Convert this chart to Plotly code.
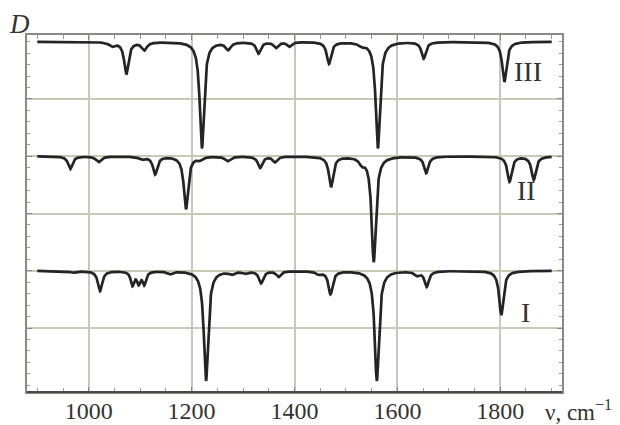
import numpy as np
import plotly.graph_objects as go

# Band parameters (position cm^-1, depth in grid units, half-width cm^-1)
nu_III = [1045, 1073, 1108, 1220, 1271, 1330, 1364, 1390, 1467, 1531, 1562, 1651, 1808]
d_III  = [0.07, 0.56, 0.14, 1.86, 0.13, 0.20, 0.10, 0.08, 0.38, 0.05, 1.86, 0.29, 0.70]
w_III  = [7, 5, 6, 5, 6, 5, 5, 5, 5, 7, 5, 5, 5]

nu_II = [964, 1019, 1103, 1129, 1189, 1216, 1270, 1333, 1362, 1471, 1531, 1554, 1656, 1818, 1865]
d_II  = [0.22, 0.10, 0.05, 0.31, 0.92, 0.05, 0.08, 0.20, 0.10, 0.53, 0.10, 1.84, 0.29, 0.44, 0.41]
w_II  = [5, 6, 7, 5, 5, 6, 6, 5, 5, 5, 6, 5, 5, 5, 5]

nu_I = [970, 1022, 1085, 1097, 1108, 1158, 1228, 1278, 1304, 1335, 1369, 1447, 1470, 1560, 1638, 1657, 1802]
d_I  = [0.03, 0.35, 0.24, 0.20, 0.22, 0.05, 1.92, 0.05, 0.04, 0.21, 0.10, 0.05, 0.40, 1.92, 0.07, 0.27, 0.77]
w_I  = [7, 5, 4, 4, 4, 6, 5, 6, 6, 5, 5, 6, 5, 5, 6, 5, 5]

labels = ["III", "II", "I"]
label_x = [1853, 1851, 1849]
label_y = [5.48, 3.41, 1.27]

x_ticks = [1000, 1200, 1400, 1600, 1800]
y_grid = [1, 2, 3, 4, 5]

nu = np.arange(900, 1900.01, 0.5)

def spectrum(base, pos, dep, wid):
    y = np.full_like(nu, float(base))
    for p, d, w in zip(pos, dep, wid):
        y -= d * w**2 / ((nu - p)**2 + w**2)
    return y

fig = go.Figure()
for base, pos, dep, wid in [(6, nu_III, d_III, w_III), (4, nu_II, d_II, w_II), (2, nu_I, d_I, w_I)]:
    fig.add_trace(go.Scatter(x=nu, y=spectrum(base, pos, dep, wid), mode="lines",
                             line=dict(color="#242424", width=2.7), hoverinfo="skip",
                             showlegend=False))

font_serif = "Liberation Serif, Times New Roman, serif"
for t, lx, ly in zip(labels, label_x, label_y):
    fig.add_annotation(x=lx, y=ly, text=t, showarrow=False, xref="x", yref="y",
                       xanchor="center", yanchor="middle",
                       font=dict(family=font_serif, size=28, color="#333333"))

# page body has an 8px margin; figure is sized so plot area lands at page (27,35)-(562,392)
OFF = 8
FW, FH = 620 - OFF, 425 - OFF
L, R, T, B = 27 - OFF, 58, 35 - OFF, 33
W, H = FW - L - R, FH - T - B
def px(xp, yp):
    # page pixel -> paper coords
    return (xp - 27) / W, 1 - (yp - 35) / H

dx, dy = px(19, 24)
fig.add_annotation(x=dx, y=dy, xref="paper", yref="paper", text="<i>D</i>", showarrow=False,
                   xanchor="center", yanchor="middle",
                   font=dict(family=font_serif, size=27, color="#333333"))
nx, ny = px(543, 410)
fig.add_annotation(x=nx, y=ny, xref="paper", yref="paper", xanchor="left", yanchor="middle",
                   text="ν, cm<sup>−1</sup>", showarrow=False,
                   font=dict(family=font_serif, size=23, color="#333333"))

grid_col = "#c8c8b6"
fig.update_layout(
    width=FW, height=FH,
    margin=dict(l=L, r=R, t=T, b=B, autoexpand=False),
    paper_bgcolor="white", plot_bgcolor="white",
    xaxis=dict(range=[880, 1920], tickvals=x_ticks, showgrid=True, gridcolor=grid_col, gridwidth=1.5,
               ticks="inside", ticklen=5, tickcolor="#888880", showline=True, linecolor="#8a8a80",
               linewidth=1.5, mirror="ticks", zeroline=False, automargin=False,
               ticklabelstandoff=-4,
               tickfont=dict(family=font_serif, size=24, color="#333333"),
               minor=dict(dtick=50, tick0=0, ticks="inside", ticklen=4, tickcolor="#999990", showgrid=False)),
    yaxis=dict(range=[-0.117, 6.117], tickvals=y_grid, showticklabels=False, showgrid=True,
               gridcolor=grid_col, gridwidth=1.5, ticks="inside", ticklen=5, tickcolor="#888880",
               showline=True, linecolor="#8a8a80", linewidth=1.5, mirror="ticks", zeroline=False,
               automargin=False,
               minor=dict(dtick=0.2, tick0=0, ticks="inside", ticklen=3, tickcolor="#999990", showgrid=False)),
)
# darker bottom axis line
fig.add_shape(type="line", xref="paper", yref="paper", x0=0, x1=1, y0=0, y1=0,
              line=dict(color="#4a4a44", width=2))

fig.write_html("out.html")
